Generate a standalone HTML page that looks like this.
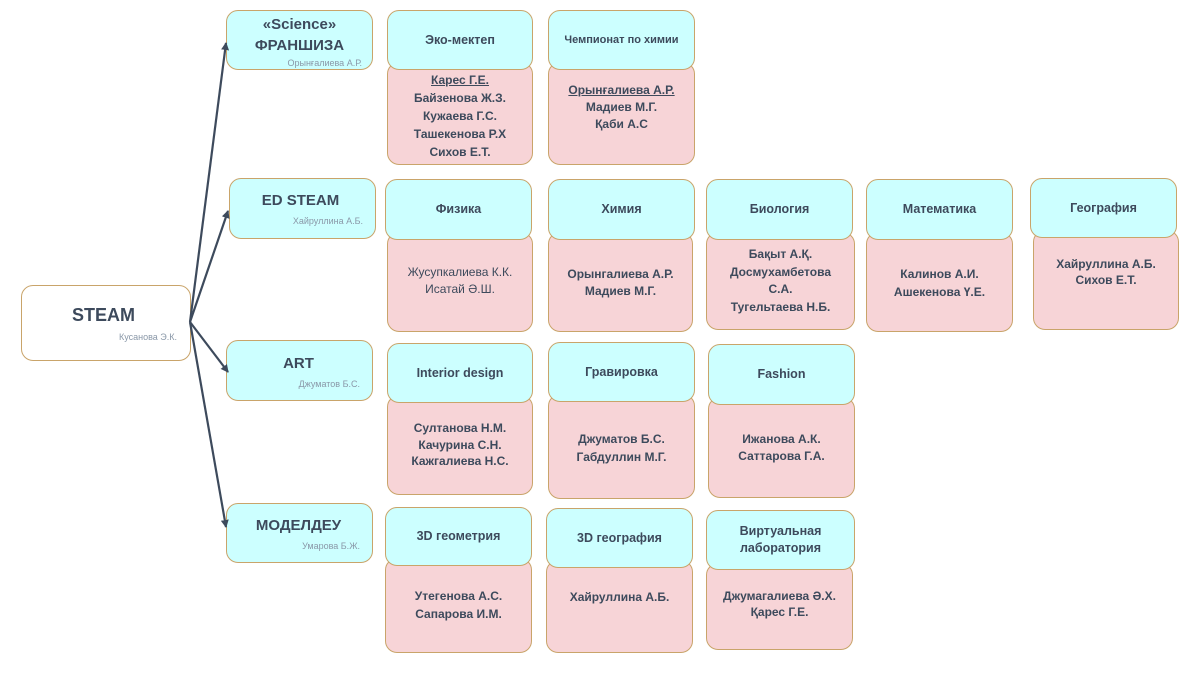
<!DOCTYPE html>
<html><head><meta charset="utf-8"><style>
body{margin:0;width:1200px;height:675px;background:#fff;position:relative;overflow:hidden;font-family:"Liberation Sans","DejaVu Sans",sans-serif;font-weight:bold;color:#3d4a5c}
.b{position:absolute;box-sizing:border-box;border:1px solid #c9a46a;border-radius:12px}
.c{background:#ccffff;display:flex;align-items:center;justify-content:center;text-align:center;font-size:12.5px;line-height:17px;z-index:2}
.p{background:#f7d4d7;z-index:1}
.t{position:absolute;left:0;right:0;text-align:center;font-size:12px}
.h{position:absolute;text-align:center;left:0;right:0}
.n{position:absolute;font-size:9px;color:#8a98a8;font-weight:normal}
</style></head><body>
<svg width="1200" height="675" style="position:absolute;left:0;top:0;z-index:3">
<defs><marker id="a" markerWidth="8" markerHeight="8" refX="7" refY="4" orient="auto" markerUnits="userSpaceOnUse"><path d="M0,0 L8,4 L0,8 z" fill="#3d4a5c"/></marker></defs>
<g stroke="#3d4a5c" stroke-width="2.2" fill="none" marker-end="url(#a)">
<line x1="190" y1="322" x2="226" y2="43"/>
<line x1="190" y1="322" x2="228" y2="211"/>
<line x1="190" y1="322" x2="228" y2="372"/>
<line x1="190" y1="322" x2="226" y2="527"/>
</g></svg>

<div class="b" style="left:21px;top:285px;width:170px;height:76px;background:#fff">
<div class="h" style="top:19px;font-size:18px;left:-5px">STEAM</div>
<div class="n" style="top:46px;right:13px">Кусанова Э.К.</div></div>

<div class="b c" style="left:226px;top:10px;width:147px;height:60px;display:block">
<div class="h" style="top:3px;font-size:15px;line-height:21px">«Science»<br>ФРАНШИЗА</div>
<div class="n" style="top:44px;right:10px">Орынғалиева А.Р.</div></div>
<div class="b c" style="left:229px;top:178px;width:147px;height:61px;display:block">
<div class="h" style="top:13px;font-size:15px;left:-4px">ED STEAM</div>
<div class="n" style="top:34px;right:12px">Хайруллина А.Б.</div></div>
<div class="b c" style="left:226px;top:340px;width:147px;height:61px;display:block">
<div class="h" style="top:14px;font-size:15px;left:-2px">ART</div>
<div class="n" style="top:35px;right:12px">Джуматов Б.С.</div></div>
<div class="b c" style="left:226px;top:503px;width:147px;height:60px;display:block">
<div class="h" style="top:13px;font-size:15px;left:-2px">МОДЕЛДЕУ</div>
<div class="n" style="top:34px;right:12px">Умарова Б.Ж.</div></div>

<!-- row1 -->
<div class="b p" style="left:387px;top:62px;width:146px;height:103px"><div class="t" style="top:8px;line-height:18px"><u>Карес Г.Е.</u><br>Байзенова Ж.З.<br>Кужаева Г.С.<br>Ташекенова Р.Х<br>Сихов Е.Т.</div></div>
<div class="b c" style="left:387px;top:10px;width:146px;height:60px">Эко-мектеп</div>
<div class="b p" style="left:548px;top:62px;width:147px;height:103px"><div class="t" style="top:19px;line-height:17px"><u>Орынғалиева А.Р.</u><br>Мадиев М.Г.<br>Қаби А.С</div></div>
<div class="b c" style="left:548px;top:10px;width:147px;height:60px;font-size:11px">Чемпионат по химии</div>

<!-- row2 -->
<div class="b p" style="left:387px;top:232px;width:146px;height:100px"><div class="t" style="top:31px;line-height:17px;font-weight:normal">Жусупкалиева К.К.<br>Исатай Ә.Ш.</div></div>
<div class="b c" style="left:385px;top:179px;width:147px;height:61px">Физика</div>
<div class="b p" style="left:548px;top:232px;width:145px;height:100px"><div class="t" style="top:33px;line-height:17px">Орынгалиева А.Р.<br>Мадиев М.Г.</div></div>
<div class="b c" style="left:548px;top:179px;width:147px;height:61px">Химия</div>
<div class="b p" style="left:706px;top:232px;width:149px;height:98px"><div class="t" style="top:13px;line-height:17.5px">Бақыт А.Қ.<br>Досмухамбетова<br>С.А.<br>Тугельтаева Н.Б.</div></div>
<div class="b c" style="left:706px;top:179px;width:147px;height:61px">Биология</div>
<div class="b p" style="left:866px;top:232px;width:147px;height:100px"><div class="t" style="top:32px;line-height:18px">Калинов А.И.<br>Ашекенова Ү.Е.</div></div>
<div class="b c" style="left:866px;top:179px;width:147px;height:61px">Математика</div>
<div class="b p" style="left:1033px;top:230px;width:146px;height:100px"><div class="t" style="top:25px;line-height:16px">Хайруллина А.Б.<br>Сихов Е.Т.</div></div>
<div class="b c" style="left:1030px;top:178px;width:147px;height:60px">География</div>

<!-- row3 -->
<div class="b p" style="left:387px;top:395px;width:146px;height:100px"><div class="t" style="top:24px;line-height:16.5px">Султанова Н.М.<br>Качурина С.Н.<br>Кажгалиева Н.С.</div></div>
<div class="b c" style="left:387px;top:343px;width:146px;height:60px">Interior design</div>
<div class="b p" style="left:548px;top:394px;width:147px;height:105px"><div class="t" style="top:35px;line-height:18px">Джуматов Б.С.<br>Габдуллин М.Г.</div></div>
<div class="b c" style="left:548px;top:342px;width:147px;height:60px">Гравировка</div>
<div class="b p" style="left:708px;top:397px;width:147px;height:101px"><div class="t" style="top:33px;line-height:17px">Ижанова А.К.<br>Саттарова Г.А.</div></div>
<div class="b c" style="left:708px;top:344px;width:147px;height:61px">Fashion</div>

<!-- row4 -->
<div class="b p" style="left:385px;top:558px;width:147px;height:95px"><div class="t" style="top:28px;line-height:18px">Утегенова А.С.<br>Сапарова И.М.</div></div>
<div class="b c" style="left:385px;top:507px;width:147px;height:59px">3D геометрия</div>
<div class="b p" style="left:546px;top:560px;width:147px;height:93px"><div class="t" style="top:27px;line-height:18px">Хайруллина А.Б.</div></div>
<div class="b c" style="left:546px;top:508px;width:147px;height:60px">3D география</div>
<div class="b p" style="left:706px;top:563px;width:147px;height:87px"><div class="t" style="top:24px;line-height:16px">Джумагалиева Ә.Х.<br>Қарес Г.Е.</div></div>
<div class="b c" style="left:706px;top:510px;width:149px;height:60px">Виртуальная<br>лаборатория</div>
</body></html>
